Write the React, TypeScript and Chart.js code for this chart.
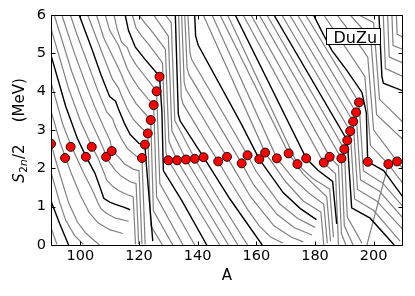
import React, { useEffect, useRef } from 'react';
import { Chart, registerables } from 'chart.js';

Chart.register(...registerables);

// ---- axes ----
const X_MIN = 90;
const X_MAX = 210;
const Y_MIN = 0;
const Y_MAX = 6;
const X_TICKS = [100, 120, 140, 160, 180, 200];
const Y_TICKS = [0, 1, 2, 3, 4, 5, 6];
const X_TITLE = 'A';
const LEGEND_LABEL = 'DuZu';

// ---- isotopic chains: [A, S2n/2 (MeV)] ----
const Z29 = [[90, 0.45], [92, 0.02]];
const Z30 = [[90, 1.15], [93, 0.55], [96, 0.0]];
const Z31 = [[90, 1.9], [93, 1.1], [95, 0.65], [98, 0.25], [101, 0.02]];
const Z32 = [[90, 2.64], [92, 2.1], [96, 1.1], [99, 0.6], [102, 0.3], [106.5, 0.0]];
const Z33 = [[90, 3.5], [93, 2.7], [95, 2.27], [97, 1.85], [100, 1.3], [103, 0.85], [106, 0.58], [110, 0.4], [114.5, 0.3]];
const Z34 = [[90, 4.25], [94, 3.15], [97, 2.56], [98, 2.4], [101, 1.9], [104, 1.45], [106, 1.1], [107, 0.95], [109, 0.82], [112, 0.7], [116.5, 0.62]];
const Z35 = [[90, 4.95], [95, 3.62], [99, 2.78], [102, 2.3], [105, 1.87], [107, 1.44], [108, 1.22], [110, 1.12], [112, 1.06], [115, 0.98], [117, 0.92]];
const Z36 = [[90, 5.65], [96, 4.08], [100, 3.24], [104, 2.56], [106, 2.27], [108, 1.9], [109, 1.69], [111, 1.53], [113, 1.42], [116, 1.31], [118, 1.26], [118.8, 0.02]];
const Z37 = [[91.1, 6.0], [97, 4.54], [101, 3.71], [104, 3.16], [107, 2.67], [109, 2.3], [110, 2.15], [112, 1.94], [114, 1.79], [117, 1.65], [119, 1.6], [119.9, 0.02]];
const Z38 = [[93.7, 6.0], [98, 5.0], [102, 4.17], [105, 3.59], [108, 3.07], [110, 2.75], [111, 2.45], [113, 2.3], [115, 2.12], [118, 1.98], [120, 1.94], [121, 0.02]];
const Z39 = [[96.6, 6.0], [99, 5.46], [103, 4.64], [106, 4.02], [109, 3.47], [111, 3.29], [112, 3.08], [114, 2.77], [116, 2.52], [119, 2.32], [121, 2.27], [122.1, 0.02]];
const Z40 = [[99.6, 6.0], [104, 5.1], [107, 4.45], [110, 3.87], [112, 3.75], [113, 3.55], [115, 3.18], [117, 2.88], [120, 2.65], [122, 2.62], [122.5, 2.1], [124.7, 0.1]];
const Z41 = [[102.5, 6.0], [105, 5.5], [108, 4.9], [111, 4.32], [113, 4.1], [114, 3.9], [116, 3.56], [118, 3.28], [121, 3.04], [123, 2.91], [124, 0.5], [128, 0.0]];
const Z42 = [[105.5, 6.0], [108, 5.4], [112, 4.77], [114, 4.45], [115, 4.25], [117, 3.94], [119, 3.69], [122, 3.43], [124, 3.26], [124.9, 0.9], [131.5, 0.0]];
const Z43 = [[108.5, 6.0], [110, 5.6], [113, 5.21], [115, 4.8], [116, 4.6], [118, 4.32], [120, 4.09], [123, 3.82], [125, 3.65], [126, 1.25], [135, 0.0]];
const Z44 = [[111.5, 6.0], [112.5, 5.65], [114, 5.3], [116, 5.15], [117, 4.95], [119, 4.7], [121, 4.5], [124, 4.21], [126, 4.01], [127.1, 1.6], [139, 0.0]];
const Z45 = [[115.3, 6.0], [116.4, 5.6], [118.7, 5.17], [122, 4.85], [126.1, 4.48], [127, 4.39], [127.8, 3.5], [128.3, 1.94], [134.6, 1.16], [143.1, 0.0]];
const Z46 = [[117.7, 6.0], [119, 5.66], [121, 5.44], [123, 5.26], [126, 4.96], [128, 4.75], [129.2, 2.4], [130, 2.21], [138, 1.2], [147.5, 0.0]];
const Z47 = [[120, 6.0], [122, 5.79], [124, 5.61], [127, 5.31], [129, 5.1], [130.2, 2.7], [133, 2.21], [141, 1.2], [150.5, 0.0]];
const Z48 = [[125, 6.0], [128, 5.67], [130, 5.45], [131.2, 2.98], [136, 2.23], [144, 1.22], [153.7, 0.0]];
const Z49 = [[129, 6.0], [131, 5.8], [132.2, 3.25], [139, 2.25], [147, 1.22], [157, 0.0]];
const Z50 = [[132.3, 6.2], [133.4, 3.42], [134, 3.24], [142, 2.29], [151, 1.2], [162, 0.0]];
const Z51 = [[133.3, 6.5], [134.4, 3.85], [135, 3.68], [143, 2.67], [147, 2.18], [151, 1.67], [157, 0.93], [161, 0.5], [165, 0.2], [169, 0.05]];
const Z52 = [[134.3, 6.5], [135.4, 4.25], [136, 4.06], [144, 3.04], [150, 2.3], [158, 1.26], [166, 0.5], [172, 0.2], [176, 0.08]];
const Z53 = [[135.3, 6.5], [136.4, 4.62], [137, 4.45], [145, 3.42], [155, 2.13], [159, 1.58], [167, 0.8], [173, 0.45], [179, 0.26]];
const Z54 = [[136.3, 6.5], [137.4, 5.0], [138, 4.83], [146, 3.79], [157, 2.34], [160, 1.91], [168, 1.07], [174, 0.7], [180, 0.46]];
const Z55 = [[138.7, 6.5], [139.3, 5.45], [140.2, 5.21], [154.5, 3.21], [161, 2.24], [169.2, 1.36], [175, 0.95], [180.5, 0.66]];
const Z56 = [[141.9, 6.0], [163, 2.41], [170, 1.65], [176, 1.15], [182, 0.86], [183, 0.0]];
const Z57 = [[144.9, 6.0], [167, 2.26], [173, 1.7], [178, 1.35], [183, 1.06], [184.2, 0.05]];
const Z58 = [[147.6, 6.0], [171, 2.39], [176, 1.85], [180, 1.55], [184, 1.26], [185.3, 0.1]];
const Z59 = [[150.2, 6.0], [174, 2.11], [179, 1.75], [185, 1.46], [186.3, 0.2]];
const Z60 = [[152.8, 6.0], [177, 2.26], [181, 1.95], [186, 1.66], [187.4, 0.55]];
const Z61 = [[155.5, 6.0], [182.9, 2.15], [187, 1.86], [188, 0.0]];
const Z62 = [[158.2, 6.0], [185, 2.3], [188, 2.06], [189, 0.3], [190.5, 0.0]];
const Z63 = [[161, 6.0], [189, 2.26], [190, 0.5], [193, 0.0]];
const Z64 = [[163.6, 6.0], [190, 2.5], [191, 0.73], [196, 0.05]];
const Z65 = [[166, 6.0], [191, 2.73], [192.5, 0.97], [198.8, 0.7], [207, 0.0]];
const Z66 = [[168.7, 6.0], [192, 2.97], [193.5, 1.2], [200, 0.9], [209, 0.1]];
const Z67 = [[171.4, 6.0], [193, 3.22], [194.5, 1.45], [201, 1.15], [210, 0.4]];
const Z68 = [[174.1, 6.0], [194, 3.46], [195.5, 1.7], [202, 1.4], [210, 0.7]];
const Z69 = [[176.8, 6.0], [195, 3.72], [196.5, 1.93], [203, 1.62], [210, 1.0]];
const Z70 = [[179.5, 6.0], [183, 5.47], [185.8, 5.07], [190.9, 4.55], [196, 3.98], [197.5, 3.45], [197.9, 2.35], [198.1, 2.17], [203.4, 1.94], [210, 1.25]];
const Z71 = [[183, 6.0], [190, 5.2], [197, 4.4], [198.9, 2.6], [205, 2.11], [210, 1.6]];
const Z72 = [[187.5, 6.0], [193, 5.45], [198, 4.9], [200, 3.0], [208, 2.18], [210, 1.98]];
const Z73 = [[192, 6.0], [199, 5.4], [201, 3.4], [210, 2.75]];
const Z74 = [[195, 6.0], [200, 5.8], [202, 3.8], [210, 3.2]];
const Z75 = [[201.5, 6.5], [202.8, 4.4], [203.3, 4.22], [210, 4.02]];
const Z76 = [[203, 6.5], [204, 4.6], [210, 4.4]];
const Z77 = [[204.5, 6.5], [205.3, 4.9], [210, 4.75]];
const Z78 = [[206, 6.5], [206.6, 5.2], [210, 5.1]];
const Z79 = [[207.5, 6.5], [208, 5.5], [210, 5.42]];
const RISING = [[197.7, 0.0], [205, 2.11]];

const BLACK_Z = [30, 35, 40, 45, 50, 55, 60, 65, 70, 75];

const CHAINS: [number, number[][]][] = [
  [29, Z29], [30, Z30], [31, Z31], [32, Z32], [33, Z33], [34, Z34], [35, Z35], [36, Z36], [37, Z37], [38, Z38],
  [39, Z39], [40, Z40], [41, Z41], [42, Z42], [43, Z43], [44, Z44], [45, Z45], [46, Z46], [47, Z47], [48, Z48],
  [49, Z49], [50, Z50], [51, Z51], [52, Z52], [53, Z53], [54, Z54], [55, Z55], [56, Z56], [57, Z57], [58, Z58],
  [59, Z59], [60, Z60], [61, Z61], [62, Z62], [63, Z63], [64, Z64], [65, Z65], [66, Z66], [67, Z67], [68, Z68],
  [69, Z69], [70, Z70], [71, Z71], [72, Z72], [73, Z73], [74, Z74], [75, Z75], [76, Z76], [77, Z77], [78, Z78],
  [79, Z79], [0, RISING],
];

// ---- red points (path) ----
const DOT_A = [90, 94.8, 96.7, 101.9, 103.9, 108.8, 110.7, 121, 122, 123, 124, 125, 126, 127, 130, 133, 136, 139, 142, 147, 150, 155, 157, 161, 163, 167, 171, 174, 177, 183, 185, 189, 190, 191, 192, 193, 194, 195, 198, 205, 208];
const DOT_S = [2.64, 2.27, 2.56, 2.3, 2.56, 2.3, 2.45, 2.27, 2.62, 2.91, 3.26, 3.65, 4.01, 4.39, 2.21, 2.21, 2.23, 2.25, 2.29, 2.18, 2.3, 2.13, 2.34, 2.24, 2.41, 2.26, 2.39, 2.11, 2.26, 2.15, 2.3, 2.26, 2.5, 2.73, 2.97, 3.22, 3.46, 3.72, 2.17, 2.11, 2.18];

const FONT = '"DejaVu Sans", "Liberation Sans", sans-serif';

const decor = {
  id: 'decor',
  afterDraw(chart: any) {
    const { ctx, chartArea: ca, scales } = chart;
    const xs = scales.x;
    const ys = scales.y;
    const L = Math.round(ca.left) + 0.5;
    const R = Math.round(ca.right) - 0.5;
    const T = Math.round(ca.top) + 0.5;
    const B = Math.round(ca.bottom) + 0.5;
    ctx.save();
    ctx.strokeStyle = '#000';
    ctx.lineWidth = 1;
    ctx.beginPath();
    ctx.rect(L, T, R - L, B - T);
    ctx.stroke();
    const tl = 4;
    ctx.beginPath();
    for (const v of Y_TICKS) {
      const p = Math.round(ys.getPixelForValue(v)) + 0.5;
      ctx.moveTo(L, p); ctx.lineTo(L + tl, p);
      ctx.moveTo(R, p); ctx.lineTo(R - tl, p);
    }
    for (const v of X_TICKS) {
      const p = Math.round(xs.getPixelForValue(v)) + 0.5;
      ctx.moveTo(p, B); ctx.lineTo(p, B - tl);
      ctx.moveTo(p, T); ctx.lineTo(p, T + tl);
    }
    ctx.stroke();

    // x title
    ctx.fillStyle = '#000';
    ctx.font = `15px ${FONT}`;
    ctx.textAlign = 'center';
    ctx.textBaseline = 'middle';
    ctx.fillText(X_TITLE, (ca.left + ca.right) / 2, 276.5);

    // y title (rotated), S_{2n}/2   (MeV)
    const parts = [
      { t: 'S', f: `italic 15px ${FONT}`, dy: 0, gap: 0 },
      { t: '2', f: `10.5px ${FONT}`, dy: 3.2, gap: 0.5 },
      { t: 'n', f: `italic 10.5px ${FONT}`, dy: 3.2, gap: 0 },
      { t: '/2', f: `15px ${FONT}`, dy: 0, gap: 0.5 },
      { t: '(MeV)', f: `15px ${FONT}`, dy: 0, gap: 22 },
    ];
    let total = 0;
    const widths = parts.map((p) => {
      ctx.font = p.f;
      const w = ctx.measureText(p.t).width;
      total += w + p.gap;
      return w;
    });
    ctx.save();
    ctx.translate(24, (ca.top + ca.bottom) / 2 + 0.5);
    ctx.rotate(-Math.PI / 2);
    ctx.textAlign = 'left';
    ctx.textBaseline = 'alphabetic';
    let xx = -total / 2;
    parts.forEach((p, i) => {
      xx += p.gap;
      ctx.font = p.f;
      ctx.fillText(p.t, xx, p.dy);
      xx += widths[i];
    });
    ctx.restore();

    // legend box
    ctx.fillStyle = '#fff';
    ctx.fillRect(326.5, 28.5, 54, 16);
    ctx.strokeStyle = '#000';
    ctx.strokeRect(326.5, 28.5, 54, 16);
    ctx.fillStyle = '#000';
    ctx.font = `16px ${FONT}`;
    ctx.textAlign = 'left';
    ctx.textBaseline = 'alphabetic';
    ctx.fillText(LEGEND_LABEL, 333.5, 42.5);
    ctx.restore();
  },
};

export default function App() {
  const ref = useRef<HTMLCanvasElement>(null);
  useEffect(() => {
    document.body.style.margin = '0';
    const datasets: any[] = [];
    CHAINS.forEach(([z, pts]) => {
      const black = BLACK_Z.includes(z);
      datasets.push({
        data: pts.map((p) => ({ x: p[0], y: p[1] })),
        borderColor: black ? '#000000' : '#808080',
        borderWidth: black ? 1.4 : 1.2,
        pointRadius: 0,
        fill: false,
        tension: 0,
        order: black ? 1 : 2,
      });
    });
    datasets.push({
      data: DOT_A.map((a, i) => ({ x: a, y: DOT_S[i] })),
      showLine: false,
      pointRadius: 4.5,
      pointBackgroundColor: '#ff0000',
      pointBorderColor: '#000000',
      pointBorderWidth: 0.9,
      order: 0,
      clip: 0,
    });
    const chart = new Chart(ref.current as HTMLCanvasElement, {
      type: 'line',
      data: { datasets },
      options: {
        responsive: false,
        animation: false,
        devicePixelRatio: 1,
        events: [],
        layout: { padding: { left: 0, right: 12, top: 15, bottom: 0 } },
        plugins: { legend: { display: false }, tooltip: { enabled: false } },
        scales: {
          x: {
            type: 'linear',
            min: X_MIN,
            max: X_MAX,
            grid: { display: false, drawTicks: false },
            border: { display: false },
            ticks: { color: '#000', font: { family: FONT, size: 14.5 }, padding: 3, maxRotation: 0, autoSkip: false },
            afterBuildTicks: (s: any) => { s.ticks = X_TICKS.map((v) => ({ value: v })); },
            afterFit: (s: any) => { s.height = 51; },
          },
          y: {
            type: 'linear',
            min: Y_MIN,
            max: Y_MAX,
            grid: { display: false, drawTicks: false },
            border: { display: false },
            ticks: { color: '#000', font: { family: FONT, size: 14.5 }, padding: 5, autoSkip: false },
            afterBuildTicks: (s: any) => { s.ticks = Y_TICKS.map((v) => ({ value: v })); },
            afterFit: (s: any) => { s.width = 51; },
          },
        },
      } as any,
      plugins: [decor],
    });
    return () => chart.destroy();
  }, []);
  return (
    <div style={{ position: 'absolute', left: 0, top: 0, width: 415, height: 296, background: '#fff' }}>
      <canvas ref={ref} width={415} height={296} style={{ display: 'block' }} />
    </div>
  );
}
